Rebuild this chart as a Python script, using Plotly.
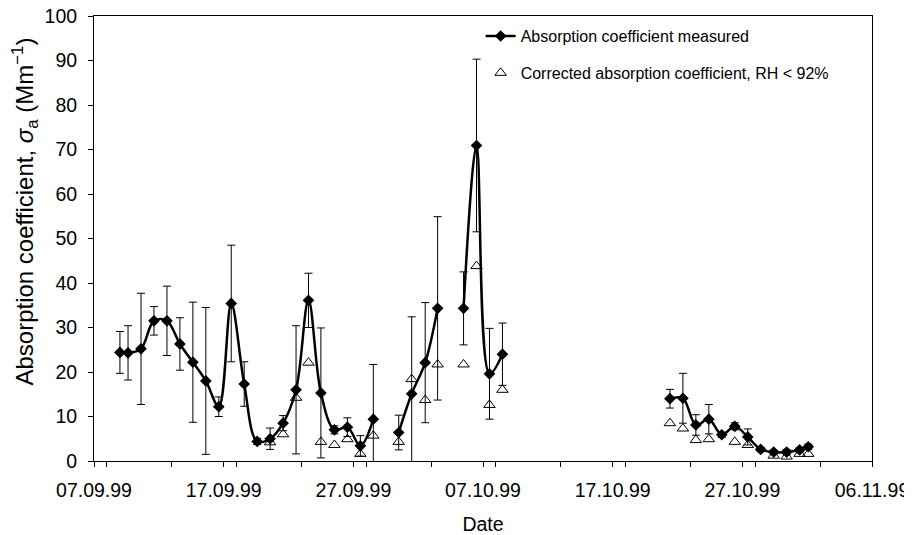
import plotly.graph_objects as go

dates = ['1999-09-09 00:00', '1999-09-09 15:00', '1999-09-10 15:00', '1999-09-11 15:00',
         '1999-09-12 15:00', '1999-09-13 15:00', '1999-09-14 15:00', '1999-09-15 15:00',
         '1999-09-16 15:00', '1999-09-17 14:00', '1999-09-18 14:00', '1999-09-19 14:00',
         '1999-09-20 14:00', '1999-09-21 14:00', '1999-09-22 14:00', '1999-09-23 13:00',
         '1999-09-24 12:00', '1999-09-25 13:00', '1999-09-26 13:00', '1999-09-27 13:00',
         '1999-09-28 13:00',
         '1999-09-30 12:00', '1999-10-01 12:00', '1999-10-02 13:00', '1999-10-03 12:00',
         '1999-10-05 12:00', '1999-10-06 12:00', '1999-10-07 12:00', '1999-10-08 12:00',
         '1999-10-21 10:00', '1999-10-22 10:00', '1999-10-23 10:00', '1999-10-24 10:00',
         '1999-10-25 10:00', '1999-10-26 10:00', '1999-10-27 10:00', '1999-10-28 10:00',
         '1999-10-29 10:00', '1999-10-30 10:00', '1999-10-31 10:00', '1999-11-01 02:00']

measured = [24.4, 24.3, 25.2, 31.5, 31.5, 26.3, 22.2, 18.0, 12.2, 35.4, 17.3, 4.4,
            5.0, 8.5, 16.0, 36.1, 15.3, 7.0, 7.6, 3.4, 9.4,
            6.4, 15.1, 22.1, 34.3,
            34.3, 70.9, 19.6, 24.0,
            14.0, 14.1, 8.1, 9.4, 5.9, 7.8, 5.4, 2.6, 2.0, 2.0, 2.5, 3.2]

measured_err = [4.7, 6.1, 12.5, 3.2, 7.8, 5.9, 13.5, 16.5, 2.2, 13.1, 5.0, 0.7,
                2.4, 1.7, 14.4, 6.1, 14.6, 0.9, 2.1, 2.3, 12.3,
                3.9, 17.3, 13.5, 20.6,
                8.2, 19.4, 10.2, 7.0,
                2.1, 5.6, 2.3, 3.3, 0.6, 0.8, 1.8, 0.5, 0.4, 0.6, 0.5, 0.6]

corrected = [None, None, None, None, None, None, None, None, None, None, None, None,
             4.2, 6.0, 14.2, 22.1, 4.3, 3.6, 4.9, 1.6, 5.7,
             4.3, 18.4, 13.7, 21.7,
             21.7, 43.8, 12.6, 16.0,
             8.5, 7.3, 4.7, 4.9, None, 4.3, 3.6, None, 1.2, 1.0, 1.6, 1.6]

# the measured line is broken into separate pieces at these indices
segment_starts = [0, 21, 25, 29]

y_title = 'Absorption coefficient, <i>σ</i><sub>a</sub> (Mm<sup>−1</sup>)'

FONT = 'Liberation Sans, Arial, sans-serif'

fig = go.Figure()

bounds = segment_starts + [len(dates)]
for i in range(len(segment_starts)):
    a, b = bounds[i], bounds[i + 1]
    fig.add_trace(go.Scatter(
        x=dates[a:b],
        y=measured[a:b],
        mode='lines+markers',
        name='Absorption coefficient measured',
        legendgroup='measured',
        showlegend=(i == 0),
        line=dict(color='black', width=2.5, shape='spline', smoothing=1),
        marker=dict(symbol='diamond', size=9, color='black'),
        error_y=dict(type='data', array=measured_err[a:b], symmetric=True,
                     color='black', thickness=1, width=4),
    ))

fig.add_trace(go.Scatter(
    x=dates,
    y=corrected,
    mode='markers',
    name='Corrected absorption coefficient, RH < 92%',
    legendgroup='corrected',
    marker=dict(symbol='triangle-up-open', size=10, color='black',
                line=dict(color='black', width=1)),
))

# page body has an 8px margin, so the figure is a bit smaller than the window
fig.update_layout(
    width=904,
    height=527,
    margin=dict(l=86, r=40, t=8, b=74, autoexpand=False),
    paper_bgcolor='white',
    plot_bgcolor='white',
    font=dict(family=FONT, size=19.5, color='black'),
    legend=dict(x=0.497, y=0.993, xanchor='left', yanchor='top',
                bgcolor='rgba(0,0,0,0)', font=dict(size=16),
                traceorder='grouped', tracegroupgap=13),
    xaxis=dict(
        type='date',
        range=['1999-09-07', '1999-11-06'],
        tick0='1999-09-07',
        dtick=10 * 86400000,
        tickformat='%d.%m.%y',
        ticks='outside', ticklen=5, tickcolor='black', ticklabelstandoff=7,
        ticklabeloverflow='allow',
        minor=dict(dtick=5 * 86400000, ticks='outside', ticklen=5, tickcolor='black'),
        showline=True, linecolor='black', linewidth=1, mirror=True,
        showgrid=False, zeroline=False, automargin=False,
        title=dict(text='Date', font=dict(size=19.5), standoff=18),
    ),
    yaxis=dict(
        range=[0, 100],
        dtick=10,
        ticks='outside', ticklen=5, tickcolor='black', ticklabelstandoff=7,
        ticklabeloverflow='allow',
        showline=True, linecolor='black', linewidth=1, mirror=True,
        showgrid=False, zeroline=False, automargin=False,
    ),
    annotations=[dict(
        text=y_title, textangle=-90, showarrow=False,
        xref='paper', yref='paper', x=-0.089, y=0.56,
        xanchor='center', yanchor='middle', font=dict(size=24),
    )],
)

fig.write_html('out.html')
